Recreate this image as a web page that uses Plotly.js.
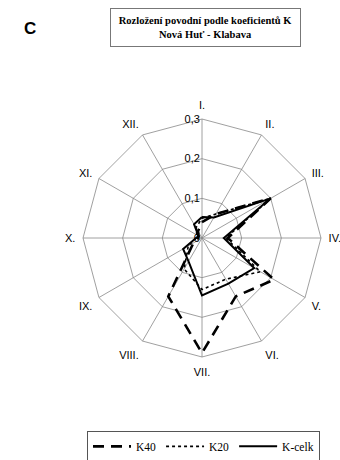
<!DOCTYPE html>
<html>
<head>
<meta charset="utf-8">
<script src="https://cdn.plot.ly/plotly-3.0.1.min.js"></script>
<style>html,body{margin:0;padding:0;background:#fff;}#chart{width:340px;height:460px;}</style>
</head>
<body>
<div id="chart"></div>
<script>
var months = ['I.', 'II.', 'III.', 'IV.', 'V.', 'VI.', 'VII.', 'VIII.', 'IX.', 'X.', 'XI.', 'XII.'];
var k40   = [0.04, 0.07, 0.20, 0.065, 0.21, 0.17, 0.29, 0.17, 0.025, 0.01, 0.01, 0.02];
var k20   = [0.05, 0.07, 0.20, 0.06, 0.17, 0.12, 0.13, 0.09, 0.04, 0.015, 0.015, 0.03];
var kcelk = [0.053, 0.06, 0.20, 0.055, 0.152, 0.133, 0.145, 0.068, 0.055, 0.015, 0.01, 0.04];
var radialTicks = [0, 0.1, 0.2, 0.3];
var radialTickText = ['0', '0,1', '0,2', '0,3'];
var titleLines = ['Rozložení povodní podle koeficientů K', 'Nová Huť - Klabava'];

function closed(arr) { return arr.concat([arr[0]]); }

var traces = [
  {type: 'scatterpolar', mode: 'lines', name: 'K40', r: closed(k40), theta: closed(months),
   line: {color: '#000', width: 2.6, dash: '11px,7px'}},
  {type: 'scatterpolar', mode: 'lines', name: 'K20', r: closed(k20), theta: closed(months),
   line: {color: '#000', width: 1.6, dash: '3px,3px'}},
  {type: 'scatterpolar', mode: 'lines', name: 'K-celk', r: closed(kcelk), theta: closed(months),
   line: {color: '#000', width: 2}}
];

var layout = {
  width: 340, height: 460,
  margin: {l: 0, r: 0, t: 0, b: 0, autoexpand: false},
  paper_bgcolor: '#fff',
  font: {family: 'Liberation Sans, Arial, sans-serif', size: 11, color: '#000'},
  showlegend: true,
  polar: {
    domain: {x: [83/340, 321/340], y: [1 - 357/460, 1 - 119/460]},
    gridshape: 'linear',
    bgcolor: '#fff',
    radialaxis: {
      range: [0, 0.3], tickvals: radialTicks, ticktext: radialTickText,
      angle: 90, side: 'counterclockwise', tickangle: 90,
      showline: false, ticks: '', gridcolor: '#888', gridwidth: 0.8,
      tickfont: {family: 'Liberation Sans, Arial, sans-serif', size: 11, color: '#000'}
    },
    angularaxis: {
      type: 'category', direction: 'clockwise', rotation: 90,
      gridcolor: '#888', gridwidth: 0.8, linecolor: '#888', linewidth: 0.8, showline: true,
      ticks: 'outside', ticklen: 5, tickcolor: 'rgba(0,0,0,0)',
      tickfont: {family: 'Liberation Sans, Arial, sans-serif', size: 11, color: '#000'}
    }
  },
  legend: {
    orientation: 'h', x: 87/340, xanchor: 'left', y: -0.004, yanchor: 'bottom',
    bordercolor: '#555', borderwidth: 1, bgcolor: '#fff',
    font: {family: 'Liberation Serif, Times New Roman, serif', size: 11.5, color: '#000'},
    itemwidth: 38
  },
  annotations: [
    {text: '<b>C</b>', xref: 'paper', yref: 'paper', x: 30/340, y: 1 - 29/460,
     xanchor: 'center', yanchor: 'middle', showarrow: false,
     font: {family: 'Liberation Sans, Arial, sans-serif', size: 17, color: '#000'}},
    {text: '<b>' + titleLines[0] + '</b><br><b>' + titleLines[1] + '</b>', xref: 'paper', yref: 'paper',
     x: 206/340, y: 1 - 27.5/460, xanchor: 'center', yanchor: 'middle', showarrow: false,
     width: 187, height: 35, borderpad: 1, bordercolor: '#777', borderwidth: 1,
     font: {family: 'Liberation Serif, Times New Roman, serif', size: 10.5, color: '#000'}}
  ]
};

Plotly.newPlot('chart', traces, layout, {displayModeBar: false, staticPlot: true});
</script>
</body>
</html>
